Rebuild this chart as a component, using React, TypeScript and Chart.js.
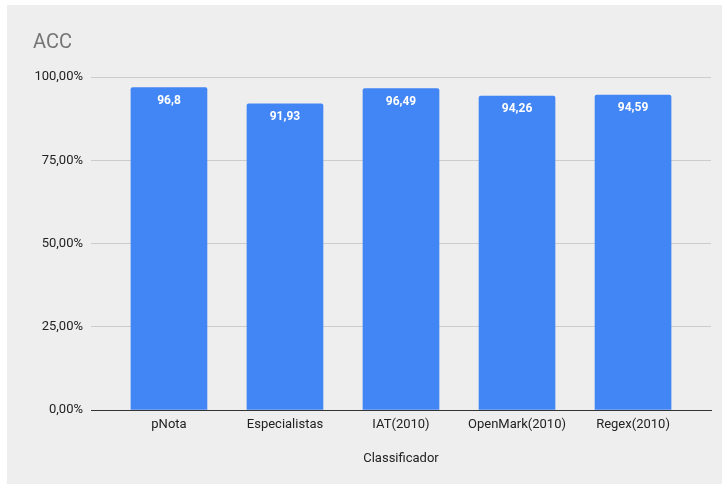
import React, { useEffect, useRef } from "react";
import { Chart, registerables } from "chart.js";

Chart.register(...registerables);

const categories = ["pNota", "Especialistas", "IAT(2010)", "OpenMark(2010)", "Regex(2010)"];
const accValues = [96.8, 91.93, 96.49, 94.26, 94.59];
const valueLabels = ["96,8", "91,93", "96,49", "94,26", "94,59"];
const yTicks = [0, 25, 50, 75, 100];
const yTickLabels = ["0,00%", "25,00%", "50,00%", "75,00%", "100,00%"];

const FONT = "Roboto, 'Noto Sans', sans-serif";

export default function App() {
  const ref = useRef<HTMLCanvasElement | null>(null);

  useEffect(() => {
    document.body.style.margin = "0";
    const canvas = ref.current;
    if (!canvas) return;

    const titlePlugin = {
      id: "accTitle",
      afterDraw(chart: any) {
        const ctx = chart.ctx;
        ctx.save();
        ctx.font = `20px ${FONT}`;
        ctx.fillStyle = "#757575";
        ctx.textBaseline = "alphabetic";
        ctx.textAlign = "left";
        ctx.fillText("ACC", 26, 43);
        ctx.restore();
      },
    };

    const labelPlugin = {
      id: "barLabels",
      afterDatasetsDraw(chart: any) {
        const ctx = chart.ctx;
        const meta = chart.getDatasetMeta(0);
        ctx.save();
        ctx.font = `bold 12px ${FONT}`;
        ctx.fillStyle = "#ffffff";
        ctx.textAlign = "center";
        ctx.textBaseline = "middle";
        meta.data.forEach((bar: any, i: number) => {
          ctx.fillText(valueLabels[i], bar.x, bar.y + 13);
        });
        ctx.restore();
      },
    };

    const chart = new Chart(canvas, {
      type: "bar",
      data: {
        datasets: [
          {
            data: accValues.map((v, i) => ({ x: i, y: v })),
            backgroundColor: "#4285F4",
            borderRadius: { topLeft: 2, topRight: 2, bottomLeft: 0, bottomRight: 0 },
            borderSkipped: "bottom",
            barThickness: 76,
          },
        ],
      },
      options: {
        animation: false,
        responsive: false,
        maintainAspectRatio: false,
        layout: { padding: { top: 72, right: 11, left: 0, bottom: 17 } },
        plugins: {
          legend: { display: false },
          tooltip: { enabled: false },
          title: { display: false },
        },
        scales: {
          x: {
            type: "linear",
            offset: false,
            min: -0.672,
            max: 4.672,
            afterFit(scale: any) {
              scale.height = 57;
            },
            afterBuildTicks(scale: any) {
              scale.ticks = categories.map((_, i) => ({ value: i }));
            },
            ticks: {
              stepSize: 1,
              includeBounds: false,
              autoSkip: false,
              maxRotation: 0,
              padding: 7,
              color: "#222222",
              font: { family: FONT, size: 13 },
              callback: (v: any) => categories[Number(v)] ?? "",
            },
            grid: { display: false, drawTicks: false, offset: false },
            border: { display: true, color: "#333333", width: 1 },
            title: {
              display: true,
              text: "Classificador",
              color: "#222222",
              font: { family: FONT, size: 13 },
              padding: { top: 14, bottom: 0 },
            },
          },
          y: {
            min: 0,
            max: 100,
            afterFit(scale: any) {
              scale.width = 84;
            },
            afterBuildTicks(scale: any) {
              scale.ticks = yTicks.map((v) => ({ value: v }));
            },
            ticks: {
              padding: 8,
              color: "#222222",
              font: { family: FONT, size: 13 },
              callback: (v: any) => yTickLabels[yTicks.indexOf(Number(v))] ?? "",
            },
            grid: {
              drawTicks: false,
              color: (c: any) => (c.tick && c.tick.value === 0 ? "#333333" : "#cccccc"),
              lineWidth: 1,
            },
            border: { display: false },
          },
        },
      },
      plugins: [titlePlugin, labelPlugin],
    });

    return () => chart.destroy();
  }, []);

  return (
    <div
      style={{
        position: "absolute",
        left: 7,
        top: 5,
        width: 715,
        height: 479,
        background: "#eeeeee",
      }}
    >
      <canvas ref={ref} width={715} height={479} style={{ display: "block" }} />
    </div>
  );
}
